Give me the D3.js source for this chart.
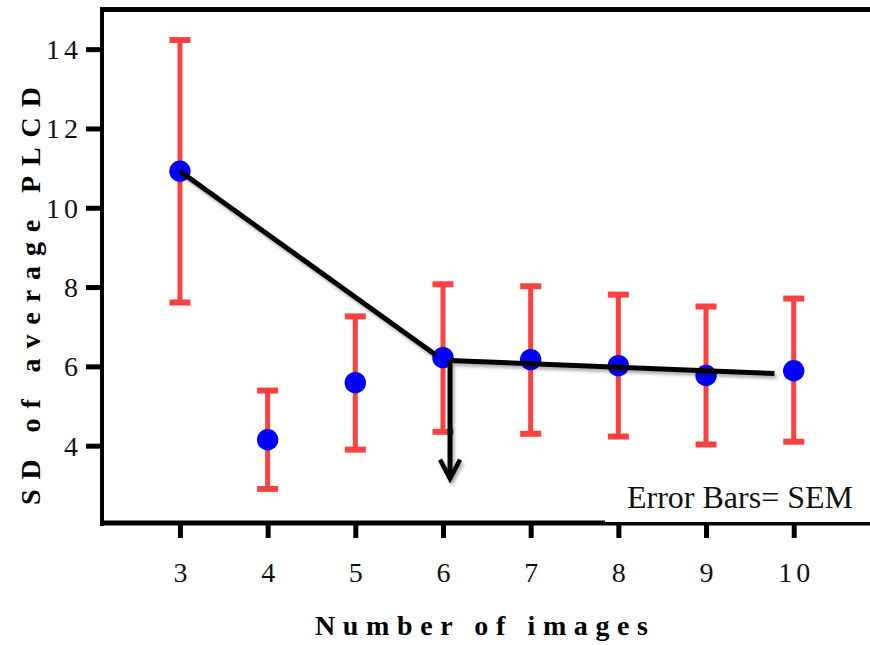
<!DOCTYPE html>
<html>
<head>
<meta charset="utf-8">
<script src="https://cdn.jsdelivr.net/npm/d3@7"></script>
<style>
  html, body { margin: 0; padding: 0; background: #fff; }
  svg { display: block; }
</style>
</head>
<body>
<div id="chart"></div>
<script>
// number of images on the x axis
const imageCounts = [3, 4, 5, 6, 7, 8, 9, 10];
// mean SD of average PLCD
const meanSD = [10.92, 4.15, 5.59, 6.22, 6.17, 6.02, 5.77, 5.89];
// error bar ends (SEM)
const upperSD = [14.23, 5.39, 7.26, 8.07, 8.02, 7.81, 7.51, 7.71];
const lowerSD = [7.61, 2.91, 3.90, 4.35, 4.30, 4.23, 4.03, 4.10];

const yTicks = [4, 6, 8, 10, 12, 14];

// hand-drawn annotation lines, in data units
const trendFirst = [[3, 10.92], [5.91, 6.30]];
const trendSecond = [[6.08, 6.15], [9.78, 5.82]];
const arrowLine = [[6.08, 6.15], [6.08, 3.17]];

const width = 870;
const height = 645;

const red = "#f84242";
const blue = "#0000f8";
const serif = "Liberation Serif, Times New Roman, serif";

const x = d3.scaleLinear().domain([2.111, 10.87]).range([102, 870]);
const y = d3.scaleLinear().domain([2.05, 15]).range([523, 9.5]);

const svg = d3.select("#chart")
    .append("svg")
    .attr("width", width)
    .attr("height", height)
    .style("font-family", serif);

svg.append("defs").html(`
  <filter id="shadow" x="-20%" y="-20%" width="140%" height="140%">
    <feDropShadow dx="2" dy="3" stdDeviation="1.5" flood-color="#000" flood-opacity="0.3"/>
  </filter>
`);

// frame: top line
svg.append("line")
    .attr("x1", x.range()[0] - 2).attr("x2", width)
    .attr("y1", y.range()[1]).attr("y2", y.range()[1])
    .attr("stroke", "#000").attr("stroke-width", 5);

// y axis
const yAxis = svg.append("g")
    .attr("transform", `translate(${x.range()[0]},0)`)
    .call(d3.axisLeft(y).tickValues(yTicks).tickSize(14).tickSizeOuter(0).tickPadding(6));

yAxis.select(".domain")
    .attr("d", `M0,${y.range()[0] + 3}V${y.range()[1] - 2.5}`)
    .attr("stroke-width", 4);
yAxis.selectAll(".tick line").attr("stroke-width", 5).attr("x2", -16);
yAxis.selectAll(".tick text")
    .style("font-family", serif)
    .attr("font-size", 28)
    .attr("letter-spacing", "4px")
    .attr("dy", "0.34em")
    .attr("fill", "#111");

// x axis
const xAxis = svg.append("g")
    .attr("transform", `translate(0,${y.range()[0]})`)
    .call(d3.axisBottom(x).tickValues(imageCounts).tickSize(15).tickSizeOuter(0).tickPadding(24));

xAxis.select(".domain")
    .attr("d", `M${x.range()[0] - 2},0H${width}`)
    .attr("stroke-width", 5);
xAxis.selectAll(".tick line").attr("stroke-width", 5);
xAxis.selectAll(".tick text")
    .style("font-family", serif)
    .attr("font-size", 28)
    .attr("letter-spacing", "4px")
    .attr("dx", "2px")
    .attr("fill", "#111");

// axis titles
svg.append("text")
    .attr("x", 315)
    .attr("y", 635)
    .attr("textLength", 333)
    .attr("lengthAdjust", "spacing")
    .attr("font-size", 28)
    .attr("font-weight", "bold")
    .text("Number of images");

svg.append("text")
    .attr("transform", "translate(40,505) rotate(-90)")
    .attr("textLength", 418)
    .attr("lengthAdjust", "spacing")
    .attr("font-size", 28)
    .attr("font-weight", "bold")
    .text("SD of average PLCD");

// error bars
const points = imageCounts.map((n, i) => ({
    n,
    mean: meanSD[i],
    hi: upperSD[i],
    lo: lowerSD[i],
}));

const bars = svg.append("g").attr("stroke", red);

bars.selectAll("line.stem")
    .data(points)
    .join("line")
    .attr("class", "stem")
    .attr("x1", (d) => x(d.n)).attr("x2", (d) => x(d.n))
    .attr("y1", (d) => y(d.hi)).attr("y2", (d) => y(d.lo))
    .attr("stroke-width", 5);

bars.selectAll("line.cap-hi")
    .data(points)
    .join("line")
    .attr("class", "cap-hi")
    .attr("x1", (d) => x(d.n) - 10.5).attr("x2", (d) => x(d.n) + 10.5)
    .attr("y1", (d) => y(d.hi)).attr("y2", (d) => y(d.hi))
    .attr("stroke-width", 6);

bars.selectAll("line.cap-lo")
    .data(points)
    .join("line")
    .attr("class", "cap-lo")
    .attr("x1", (d) => x(d.n) - 10.5).attr("x2", (d) => x(d.n) + 10.5)
    .attr("y1", (d) => y(d.lo)).attr("y2", (d) => y(d.lo))
    .attr("stroke-width", 6);

// mean points
svg.append("g")
    .selectAll("circle")
    .data(points)
    .join("circle")
    .attr("cx", (d) => x(d.n))
    .attr("cy", (d) => y(d.mean))
    .attr("r", 10.7)
    .attr("fill", blue);

// annotation lines, drawn over the points
const line = d3.line().x((d) => x(d[0])).y((d) => y(d[1]));

const notes = svg.append("g")
    .attr("fill", "none")
    .attr("stroke", "#000")
    .attr("stroke-width", 5)
    .attr("filter", "url(#shadow)");

notes.append("path").attr("d", line(trendFirst));
notes.append("path").attr("d", line(trendSecond));
notes.append("path").attr("d", line(arrowLine));

// arrow head at the end of the vertical line
const tip = arrowLine[1];
notes.append("path")
    .attr("d", `M${x(tip[0]) - 10},${y(tip[1]) - 19}L${x(tip[0])},${y(tip[1])}L${x(tip[0]) + 10},${y(tip[1]) - 19}`)
    .attr("stroke-width", 4.5);

// legend box sits over the axis
svg.append("rect")
    .attr("x", 605).attr("y", 472)
    .attr("width", width - 605).attr("height", 50)
    .attr("fill", "#fff");

svg.append("text")
    .attr("x", 627)
    .attr("y", 508)
    .attr("font-size", 32)
    .attr("fill", "#111")
    .text("Error Bars= SEM");
</script>
</body>
</html>
